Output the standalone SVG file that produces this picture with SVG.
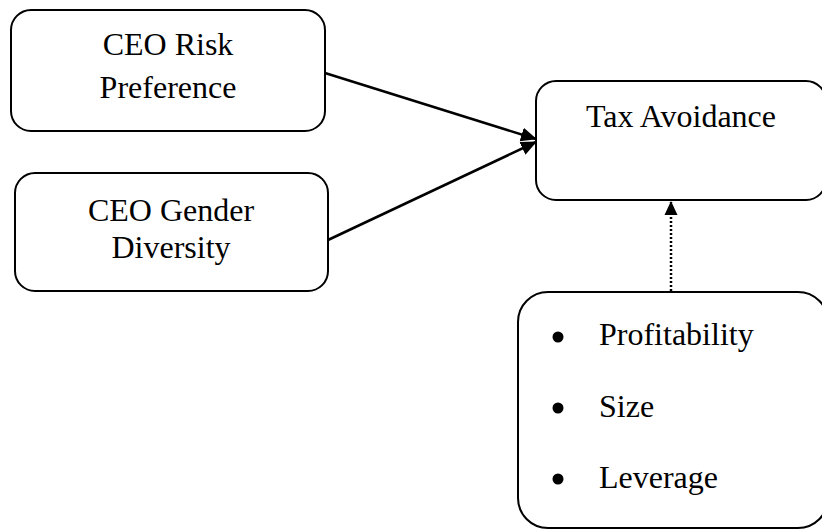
<svg xmlns="http://www.w3.org/2000/svg" width="822" height="529" viewBox="0 0 822 529">
<style>
.box{fill:#fff;stroke:#000;stroke-width:2}
.t{font-family:"Liberation Serif","Times New Roman",serif;font-size:32px;fill:#000}
.c{text-anchor:middle}
.ln{stroke:#000;stroke-width:2.5;fill:none}
</style>
<defs>
<marker id="ah" markerWidth="14" markerHeight="14" refX="13" refY="7" orient="auto" markerUnits="userSpaceOnUse" viewBox="0 0 14 14">
<path d="M0,0.5 L14,7 L0,13.5 z" fill="#000"/>
</marker>
<marker id="ah2" markerWidth="16" markerHeight="16" refX="15" refY="8" orient="auto" markerUnits="userSpaceOnUse" viewBox="0 0 16 16">
<path d="M0,1 L16,8 L0,15 z" fill="#000"/>
</marker>
</defs>
<rect width="822" height="529" fill="#fff"/>
<g id="n1">
<rect class="box" x="11" y="10" width="314" height="121" rx="20"/>
<text class="t c" x="168" y="55">CEO Risk</text>
<text class="t c" x="168" y="98">Preference</text>
</g>
<g id="n2">
<rect class="box" x="15" y="173" width="313" height="118" rx="20"/>
<text class="t c" x="171" y="221">CEO Gender</text>
<text class="t c" x="171" y="258">Diversity</text>
</g>
<g id="n3">
<rect class="box" x="536" y="81" width="290" height="119" rx="20"/>
<text class="t c" x="681" y="127">Tax Avoidance</text>
</g>
<g id="n4">
<rect class="box" x="518" y="292" width="310" height="236" rx="30"/>
<circle cx="558" cy="337" r="5.5" fill="#000"/>
<circle cx="558" cy="408" r="5.5" fill="#000"/>
<circle cx="558" cy="479" r="5.5" fill="#000"/>
<text class="t" x="599" y="345">Profitability</text>
<text class="t" x="599" y="417">Size</text>
<text class="t" x="599" y="488">Leverage</text>
</g>
<g id="connectors">
<line class="ln" x1="325" y1="73" x2="536" y2="139" marker-end="url(#ah2)"/>
<line class="ln" x1="328" y1="240" x2="536" y2="142" marker-end="url(#ah2)"/>
<line x1="671" y1="291" x2="671" y2="202" stroke="#000" stroke-width="2.5" stroke-dasharray="2,2" marker-end="url(#ah)"/>
</g>
</svg>
